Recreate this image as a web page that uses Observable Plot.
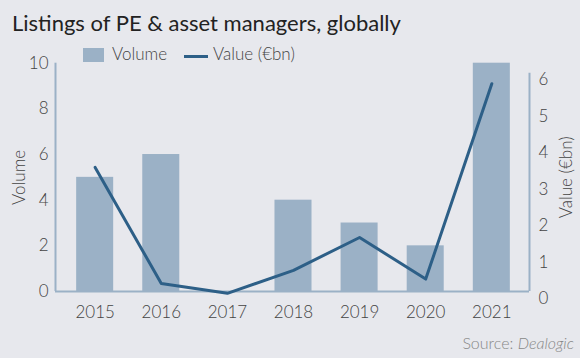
<!DOCTYPE html>
<html><head><meta charset="utf-8">
<script src="https://cdn.jsdelivr.net/npm/d3@7"></script>
<script src="https://cdn.jsdelivr.net/npm/@observablehq/plot@0.6"></script>
<style>
html,body{margin:0;padding:0;background:#e7e8ed;}
#wrap{position:relative;width:580px;height:358px;overflow:hidden;font-family:Lato,sans-serif;background:#e7e8ed;}
#title{position:absolute;left:12px;top:10px;font-size:22px;line-height:26px;color:#222;white-space:nowrap;}
#chart{position:absolute;left:0;top:40px;}
#legend{position:absolute;left:82px;top:42px;height:26px;font-size:17px;font-weight:300;color:#444;white-space:nowrap;}
.sw{position:absolute;}
.lt{position:absolute;top:2px;line-height:20px;}
#source{position:absolute;right:6px;top:333px;font-size:16px;font-weight:300;color:#888;white-space:nowrap;}
</style>
</head><body>
<div id="wrap">
  <div id="title">Listings of PE &amp; asset managers, globally</div>
  <div id="chart"></div>
  <div id="legend">
    <span class="sw" style="left:0.5px;top:6.3px;width:21.5px;height:13.5px;background:#9bb1c6"></span>
    <span class="lt" style="left:30px">Volume</span>
    <span class="sw" style="left:102px;top:12.5px;width:24px;height:3px;background:#2d5f87"></span>
    <span class="lt" style="left:131px">Value (€bn)</span>
  </div>
  <div id="source">Source: <i>Dealogic</i></div>
</div>
<script>
const years = [2015, 2016, 2017, 2018, 2019, 2020, 2021];
const volume = [5, 6, 0, 4, 3, 2, 10];
const valueBn = [3.6, 0.42, 0.15, 0.78, 1.68, 0.54, 5.89];
const volumeTicks = [0, 2, 4, 6, 8, 10];
const valueTicks = [0, 1, 2, 3, 4, 5, 6];

const data = years.map((y, i) => ({year: y, volume: volume[i], value: valueBn[i]}));

// secondary (right) axis expressed in the primary y scale units
const toVol = v => -0.32 + v * 1.599;

const barColor = "#9bb1c6";
const lineColor = "#2d5f87";
const axisColor = "#9bb1c6";
const xMin = 2014.4, xMax = 2021.57;

const chart = Plot.plot({
  width: 580,
  height: 290,
  marginLeft: 55,
  marginRight: 51,
  marginTop: 22.7,
  marginBottom: 39,
  style: {background: "transparent", fontFamily: "Lato, sans-serif", fontSize: "17px", fontWeight: 300, color: "#444", overflow: "visible"},
  x: {type: "linear", domain: [xMin, xMax]},
  y: {domain: [0, 10]},
  marks: [
    Plot.rectY(data, {x1: d => d.year - 0.28, x2: d => d.year + 0.28, y: "volume", fill: barColor}),
    Plot.ruleX([xMin], {y1: 0, y2: 10, stroke: axisColor, strokeWidth: 2}),
    Plot.ruleX([xMax], {y1: 0, y2: 9.56, stroke: axisColor, strokeWidth: 2}),
    Plot.ruleY([0], {x1: xMin, x2: xMax, stroke: axisColor, strokeWidth: 2}),
    Plot.line(data, {x: "year", y: d => toVol(d.value), stroke: lineColor, strokeWidth: 3}),
    Plot.axisX({ticks: years, tickFormat: d => String(d), tickSize: 0, tickPadding: 14, label: null}),
    Plot.axisY({ticks: volumeTicks, tickSize: 0, tickPadding: 7, label: "Volume", labelArrow: "none", labelAnchor: "center", labelOffset: 43}),
    Plot.axisY({anchor: "right", ticks: valueTicks.map(toVol), tickFormat: d => String(Math.round((d + 0.32) / 1.599)), tickSize: 0, tickPadding: 9, label: "Value (€bn)", labelArrow: "none", labelAnchor: "center", labelOffset: 42})
  ]
});
document.getElementById("chart").appendChild(chart);
</script>
</body></html>
